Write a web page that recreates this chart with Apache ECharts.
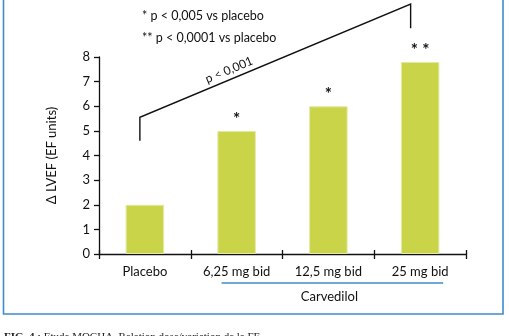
<!DOCTYPE html>
<html>
<head>
<meta charset="utf-8">
<script src="https://cdn.jsdelivr.net/npm/echarts@6/dist/echarts.min.js"></script>
<style>html,body{margin:0;padding:0;background:#fff}#c{width:509px;height:336px}</style>
</head>
<body>
<div id="c"></div>
<script>
const categories = ['Placebo', '6,25 mg bid', '12,5 mg bid', '25 mg bid'];
const lvefChange = [2.0, 5.0, 6.0, 7.8];
const significance = ['', '*', '*', '* *'];
const yTicks = [0, 1, 2, 3, 4, 5, 6, 7, 8];
const legendNotes = ['* p < 0,005 vs placebo', '** p < 0,0001 vs placebo'];
const trendLabel = 'p < 0,001';
const groupLabel = 'Carvedilol';
// bracket anchor points: [category index, value]
const bracketPoints = [[0, 4.6], [0, 5.55], [3, 10.15], [3, 9.17]];

const FONT = 'Lato, "Open Sans", sans-serif';
const chart = echarts.init(document.getElementById('c'));
const option = {
  animation: false,
  grid: { left: 99, right: 43, top: 57, bottom: 82 },
  xAxis: [{
    type: 'category', data: categories,
    axisLine: { lineStyle: { color: '#111', width: 1.3 } },
    axisTick: { show: true, length: 5, lineStyle: { color: '#111', width: 1.3 } },
    axisLabel: { color: '#111', fontSize: 13, fontFamily: FONT, margin: 11 }
  }, {
    type: 'category', data: categories, position: 'bottom',
    axisLine: { show: false },
    axisTick: { show: true, inside: true, length: 4, lineStyle: { color: '#111', width: 1.3 } },
    axisLabel: { show: false }
  }],
  yAxis: {
    type: 'value', min: 0, max: 8, interval: 1,
    name: 'Δ LVEF (EF units)', nameLocation: 'middle', nameGap: 41, nameRotate: 90,
    nameTextStyle: { color: '#111', fontSize: 13, fontFamily: FONT },
    axisLine: { show: true, lineStyle: { color: '#111', width: 1.3 } },
    axisTick: { show: true, length: 5, lineStyle: { color: '#111', width: 1.3 } },
    axisLabel: { color: '#111', fontSize: 13, fontFamily: FONT, margin: 9,
      formatter: v => yTicks.includes(v) ? String(v) : '' },
    splitLine: { show: false }
  },
  series: [{
    type: 'bar', data: lvefChange, barWidth: '42%',
    itemStyle: { color: '#cad449', borderColor: '#e4e9a8', borderWidth: 1 },
    label: { show: true, position: 'top', distance: 3, color: '#111', fontSize: 17, fontWeight: 'bold',
      fontFamily: FONT, formatter: p => significance[p.dataIndex] }
  }]
};
chart.setOption(option);

const px = bracketPoints.map(p => chart.convertToPixel({ xAxisIndex: 0, yAxisIndex: 0 }, [p[0], p[1]]));
// shift bracket ends slightly left of bar centres
px[0][0] -= 5; px[1][0] -= 5; px[2][0] -= 9.5; px[3][0] -= 9.5;
const angle = Math.atan2(px[1][1] - px[2][1], px[2][0] - px[1][0]);
const c1 = chart.convertToPixel({ xAxisIndex: 0 }, categories[1]);
const c3 = chart.convertToPixel({ xAxisIndex: 0 }, categories[3]);
const baseY = chart.convertToPixel({ yAxisIndex: 0 }, 0);

chart.setOption({
  graphic: [
    { type: 'rect', shape: { x: 3.5, y: -3, width: 499.5, height: 317 },
      style: { fill: 'none', stroke: '#3f8ccb', lineWidth: 1.6 }, silent: true },
    { type: 'polyline', shape: { points: px },
      style: { fill: 'none', stroke: '#111', lineWidth: 1.4 } },
    { type: 'text', x: 229, y: 70, rotation: angle, originX: 0, originY: 0,
      style: { text: trendLabel, fill: '#111', font: '12px ' + FONT, align: 'center', verticalAlign: 'middle' } },
    { type: 'text', x: 142, y: 16, style: { text: legendNotes[0], fill: '#111', font: '12.5px ' + FONT, verticalAlign: 'middle' } },
    { type: 'text', x: 142, y: 38, style: { text: legendNotes[1], fill: '#111', font: '12.5px ' + FONT, verticalAlign: 'middle' } },
    { type: 'line', shape: { x1: c1 - 15, y1: baseY + 29, x2: c3 + 23, y2: baseY + 29 },
      style: { stroke: '#3f8ccb', lineWidth: 1.5 } },
    { type: 'text', x: (c1 + c3) / 2 + 1, y: baseY + 43,
      style: { text: groupLabel, fill: '#111', font: '13px ' + FONT, align: 'center', verticalAlign: 'middle' } },
    { type: 'text', x: 4, y: 332,
      style: { text: '{b|FIG. 4 :} Etude MOCHA. Relation dose/variation de la FE',
        rich: { b: { fontWeight: 'bold', fontFamily: 'Liberation Serif, serif', fontSize: 11, fill: '#222' } },
        fill: '#222', font: '11px "Liberation Serif", serif', verticalAlign: 'top' } }
  ]
});
</script>
</body>
</html>
